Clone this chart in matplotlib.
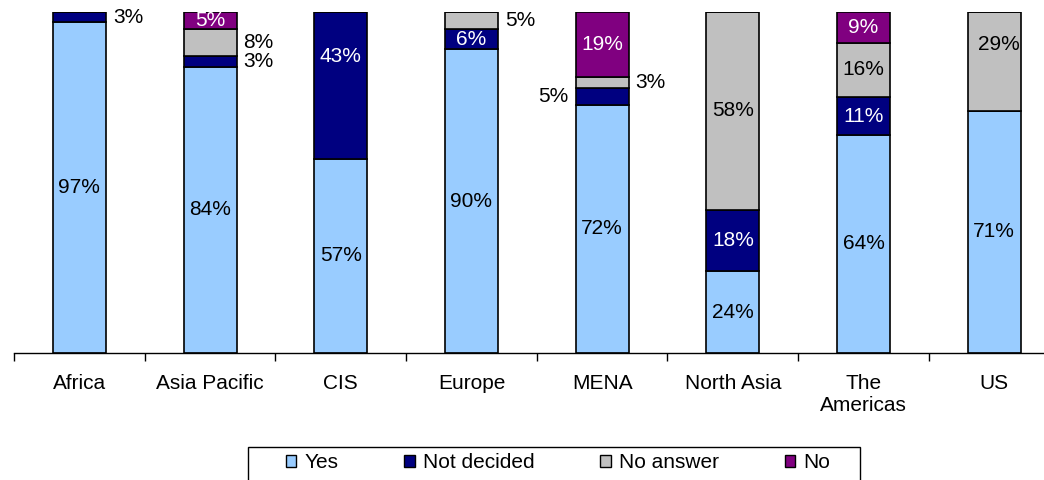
import matplotlib
matplotlib.use("Agg")
import matplotlib.pyplot as plt
from matplotlib.patches import Patch, Rectangle
import numpy as np

categories = ["Africa", "Asia Pacific", "CIS", "Europe", "MENA",
              "North Asia", "The\nAmericas", "US"]
series_names = ["Yes", "Not decided", "No answer", "No"]
yes = [97, 84, 57, 90, 72, 24, 64, 71]
not_decided = [3, 3, 43, 6, 5, 18, 11, 0]
no_answer = [0, 8, 0, 5, 3, 58, 16, 29]
no = [0, 5, 0, 0, 19, 0, 9, 0]

colors = ["#99CCFF", "#000080", "#C0C0C0", "#800080"]
text_colors = ["black", "white", "black", "white"]

# labels drawn beside the bar instead of inside: (category index, series index) -> side
outside = {(0, 1): "right", (1, 1): "right", (1, 2): "right",
           (3, 2): "right", (4, 1): "left", (4, 2): "right"}
# small nudges (points) for labels that excel didn't centre
nudge = {(2, 1): (0, 21), (7, 2): (3, 12)}

plt.rcParams['font.family'] = ['Liberation Sans', 'DejaVu Sans']
fs = 15

fig = plt.figure(figsize=(10.44, 4.8), dpi=100)
ax = fig.add_axes([14 / 1044, 127 / 480, 1045.6 / 1044, 341 / 480])

data = np.array([yes, not_decided, no_answer, no], dtype=float)
totals = data.sum(axis=0)
pct = data / totals * 100
x = np.arange(len(categories))
width = 0.405

bottom = np.zeros(len(categories))
for s in range(4):
    ax.bar(x, pct[s], width, bottom=bottom, color=colors[s],
           edgecolor="black", linewidth=1.2, zorder=2)
    for i in range(len(categories)):
        v = data[s, i]
        if v == 0:
            continue
        yc = bottom[i] + pct[s, i] / 2
        key = (i, s)
        if key in outside:
            if outside[key] == "right":
                ax.annotate(f"{int(v)}%", (x[i] + width / 2, yc), xytext=(5, 0),
                            textcoords="offset points", ha="left", va="center",
                            fontsize=fs, color="black")
            else:
                ax.annotate(f"{int(v)}%", (x[i] - width / 2, yc), xytext=(-5, 0),
                            textcoords="offset points", ha="right", va="center",
                            fontsize=fs, color="black")
        else:
            dx, dy = nudge.get(key, (0, 0))
            ax.annotate(f"{int(v)}%", (x[i], yc), xytext=(dx, dy),
                        textcoords="offset points", ha="center", va="center",
                        fontsize=fs, color=text_colors[s])
    bottom += pct[s]

ax.set_xlim(-0.5, len(categories) - 0.5)
ax.set_ylim(0, 100)
for sp in ["left", "right", "top"]:
    ax.spines[sp].set_visible(False)
ax.spines["bottom"].set_linewidth(1.0)
ax.set_yticks([])
ax.set_xticks(np.arange(len(categories) + 1) - 0.5)
ax.set_xticklabels([])
ax.set_xticks(x, minor=True)
ax.set_xticklabels(categories, minor=True, fontsize=fs)
ax.tick_params(axis="x", which="major", length=6, width=1, direction="out")
ax.tick_params(axis="x", which="minor", length=0, pad=15)

handles = [Patch(facecolor=c, edgecolor="black", linewidth=1) for c in colors]
fig.legend(handles, series_names, loc="center", bbox_to_anchor=(558 / 1044, 1 - 463 / 480),
           ncol=4, frameon=False, fontsize=fs, handlelength=0.5, handleheight=0.5,
           handletextpad=0.4, columnspacing=3.15)
fig.add_artist(Rectangle((248 / 1044, -0.05), (860 - 248) / 1044, 0.05 + (480 - 447) / 480,
                         transform=fig.transFigure, fill=False, edgecolor="black",
                         linewidth=1, clip_on=False))

fig.savefig("out.png", dpi=100)
